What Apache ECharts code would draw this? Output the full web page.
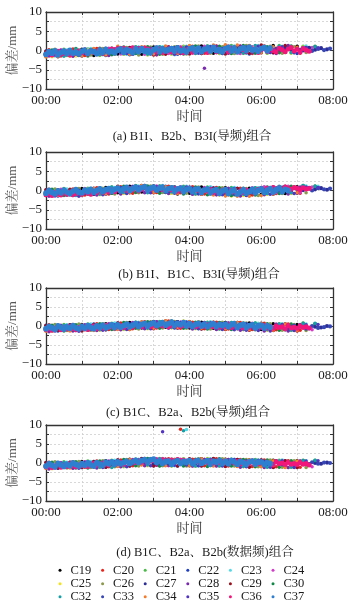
<!DOCTYPE html>
<html><head><meta charset="utf-8">
<script src="https://cdn.jsdelivr.net/npm/echarts@6/dist/echarts.min.js"></script>
<style>html,body{margin:0;padding:0;background:#fff}#c{width:360px;height:606px}</style>
</head><body><div id="c"></div>
<script>
// ---- sampling epochs (minutes after 00:00) ----
const time5=[0,5,10,15,20,25,30,35,40,45,50,55,60,65,70,75,80,85,90,95,100,105,110,115,120,125,130,135,140,145,150,155,160,165,170,175,180,185,190,195,200,205,210,215,220,225,230,235,240,245,250,255,260,265,270,275,280,285,290,295,300,305,310,315,320,325,330,335,340,345,350,355,360,365,370,375,380,385,390,395,400,405,410,415,420,425,430,435,440,445,450,455,460,465,470,475];
const time10a=[0,10,20,30,40,50,60,70,80,90,100,110,120,130,140,150,160,170,180,190,200,210,220,230,240,250,260,270,280,290,300,310,320,330,340,350,360,370,380,390,400,410,420,430,440,450,460,470];
const time10b=[5,15,25,35,45,55,65,75,85,95,105,115,125,135,145,155,165,175,185,195,205,215,225,235,245,255,265,275,285,295,305,315,325,335,345,355,365,375,385,395,405,415,425,435,445,455,465,475];
const g0=[0,20,40,60,80,100,120,140,160,180,200,220,240,260,280,300,320,340,360,380,400,420,440,460];
const g1=[5,25,45,65,85,105,125,145,165,185,205,225,245,265,285,305,325,345,365,385,405,425,445,465];
const g2=[10,30,50,70,90,110,130,150,170,190,210,230,250,270,290,310,330,350,370,390,410,430,450,470];
const g3=[15,35,55,75,95,115,135,155,175,195,215,235,255,275,295,315,335,355,375,395,415,435,455,475];

// ---- satellites ----
const sats=['C19','C20','C21','C22','C23','C24','C25','C26','C27','C28','C29','C30','C32','C33','C34','C35','C36','C37'];
const satColors=['#000000','#e8231a','#4cbb4c','#1f3fbf','#55d8e6','#d23cc8','#f2e21c','#8a9a4a','#2d2d96','#7a2ab0','#9a0f1c','#0e8a46','#14a0a8','#3646b4','#f47c2c','#5234c4','#f2167a','#2f7fd0'];
const panelCaptions=['(a) B1I、B2b、B3I(导频)组合','(b) B1I、B1C、B3I(导频)组合','(c) B1C、B2a、B2b(导频)组合','(d) B1C、B2a、B2b(数据频)组合'];
const xTickLabels=['00:00','02:00','04:00','06:00','08:00'];

// ===== panel (a) =====
const aC19=[-1.5,-0.2,-1.2,0.3,-1.3,0.5,-0.9,0.8,-1.0,0.9,-0.8,1.0,-0.6,1.2,-0.7,1.3,-0.5,1.2,-0.6,1.3,-0.4,1.1,null,null];
const aC20=[0.2,-1.4,0.4,-1.3,0.5,-1.2,0.8,-1.0,0.9,-1.1,1.0,-0.8,1.1,-0.7,1.2,-0.6,1.1,-0.8,1.2,-0.5,1.0,-0.7,null,null];
const aC21=[-1.3,0.3,-1.1,0.4,-1.2,0.6,-0.9,1.0,-1.1,0.9,-0.9,1.1,-0.7,1.2,-0.8,1.3,-0.6,1.2,-0.7,1.3,-0.5,1.1,0.9,null];
const aC22=[-0.1,-1.6,0.2,-1.4,0.3,-1.3,0.7,-1.1,0.8,-0.9,1.0,-1.0,1.1,-0.8,1.2,-0.7,1.0,-0.9,1.2,-0.6,1.1,-0.8,null,null];
const aC23=[-1.4,0.1,-1.2,0.5,-1.1,0.4,-1.0,0.9,-0.9,1.0,-1.1,1.1,-0.6,1.1,-0.8,1.2,-0.7,1.3,-0.5,1.1,-0.6,1.2,null,null];
const aC24=[-1.2,0.2,-1.4,0.4,-1.0,0.6,-0.9,0.8,-1.0,0.9,-0.8,1.0,-0.7,1.1,-0.6,1.2,-0.8,1.0,0.9,-0.5,1.1,-0.4,0.8,null];
const aC25=[-1.6,-0.1,-1.4,0.2,-1.3,0.3,-1.0,0.7,-1.1,0.8,-0.9,0.9,-0.8,1.1,-0.7,1.0,-0.8,1.2,-0.6,1.0,-0.7,0.9,null,null];
const aC26=[0.3,-1.3,0.1,-1.2,0.5,-1.0,0.8,-1.2,0.9,-1.0,1.0,-0.9,1.2,-0.7,1.0,-0.8,1.3,-0.6,1.1,-0.7,1.0,-0.5,null,null];
const aC27=[-1.1,-0.4,-0.8,-0.2,-0.9,-0.5,-0.3,-0.9,0.0,-0.6,-0.2,-0.7,0.2,-0.5,0.4,-0.3,0.1,-0.6,0.4,-0.4,0.6,-0.2,0.3,-0.5,0.5,-0.3,0.7,0.0,0.4,-0.2,0.6,-0.2,0.8,0.1,0.5,-0.3,0.7,0.0,0.4,-0.1,0.6,0.2,0.5,0.0,0.7,0.2,0.6,0.3];
const aC28=[-1.4,0.0,-1.5,0.3,-1.1,-1.3,0.6,-1.0,0.7,-1.1,0.9,-0.8,1.0,-4.6,1.1,-0.7,1.2,-0.6,1.0,-0.8,1.3,-0.4,null,null];
const aC29=[-0.2,-1.5,0.1,-1.3,0.4,-1.1,0.6,-0.9,0.8,-1.2,-1.0,0.9,-0.9,-0.8,1.1,-0.9,1.0,-0.7,1.4,-0.6,1.3,0.9,null,null];
const aC30=[0.1,-1.2,0.5,-1.4,0.6,-1.1,0.9,-0.8,1.0,-1.0,0.8,-0.9,1.2,-0.6,1.1,-0.8,1.3,-0.7,1.0,-0.6,1.2,0.8,1.1,null];
const aC32=[-0.3,-1.5,0.4,-1.0,-1.2,0.6,-0.8,0.9,-1.0,1.0,-0.7,0.8,-0.8,1.2,-0.6,1.0,-0.7,1.3,-0.5,1.1,-0.6,0.8,1.0,null];
const aC33=[-0.5,-1.0,-0.2,-0.8,-0.4,-1.1,-0.7,0.0,-0.8,-0.4,0.1,-0.5,-0.4,0.3,-0.6,0.2,-0.2,0.5,-0.3,0.5,-0.1,0.6,-0.4,0.3,-0.2,0.6,0.1,0.8,-0.3,0.4,0.0,0.7,-0.2,0.8,0.2,-0.1,0.6,-0.2,0.5,0.1,0.7,-0.1,0.2,0.6,-0.1,0.4,0.1,0.5];
const aC34=[-1.7,-1.6,-1.5,-1.4,0.5,-1.2,1.1,-1.0,1.0,-0.9,1.2,-0.8,1.3,-0.6,1.4,1.5,1.4,1.3,-0.6,1.0,-0.5,0.8,null,null];
const aC35=[-1.2,-0.3,-1.3,0.1,-1.0,0.4,-0.8,0.8,-0.9,0.7,-1.0,0.9,-0.7,1.0,-0.8,0.9,-0.6,1.1,-0.5,1.0,-0.6,0.8,0.7,null];
const aC36=[-0.9,-0.4,-1.2,-0.6,-0.2,-1.0,-0.7,-0.3,-1.1,-0.5,-0.8,-0.1,
-0.6,-0.2,-0.9,0.0,-0.5,-0.3,0.2,-0.7,0.3,0.1,0.4,0.2,
0.5,0.3,0.6,0.1,0.4,0.7,0.2,0.5,0.3,0.6,0.4,0.1,
0.2,-0.3,0.4,-0.5,0.0,0.3,-0.4,0.1,-0.2,0.5,-0.6,0.2,
0.3,-0.4,0.1,0.6,-0.2,0.4,-0.5,0.2,0.7,-0.3,0.3,0.0,
0.4,-0.3,0.6,0.1,-0.4,0.5,0.2,-0.2,0.7,0.0,0.3,-0.5,
0.2,0.5,-0.2,0.4,0.0,-0.4,0.6,0.2,-0.3,0.4,0.8,-0.1,
0.3,-0.4,0.5,0.1,-0.2];
const aC37=[-1.0,-0.3,-0.7,-0.1,-1.1,-0.5,-0.2,-0.8,0.0,-0.7,-0.5,-0.9,
-0.2,0.1,-0.7,-0.1,-0.3,-0.8,0.1,-0.5,0.3,-0.4,-0.2,-0.6,
0.1,0.4,-0.5,0.2,-0.1,-0.6,0.4,-0.3,0.5,-0.2,0.0,-0.5,
0.2,0.6,-0.3,0.4,-0.1,0.2,0.5,-0.2,0.7,-0.1,0.1,-0.4,
0.4,0.7,-0.2,0.6,-0.3,0.3,0.6,-0.1,0.8,0.0,0.2,-0.3,
0.5,0.8,-0.1,0.6,-0.3,0.4,0.7,0.0,0.9,0.1,0.3,-0.2,
0.5,0.8,0.0,0.6];

// ===== panel (b) =====
const bC19=[-1.3,0.2,-1.1,0.5,-1.0,0.8,-0.6,1.1,-0.4,1.2,-0.5,-0.9,-0.7,0.9,-1.0,0.7,-1.2,0.6,-1.0,0.9,-0.8,1.0,null,null];
const bC20=[0.3,-1.2,0.4,-1.2,0.7,-0.9,1.0,-0.7,1.3,-0.5,1.1,-0.6,1.0,-0.9,0.8,-1.1,0.6,-1.2,0.8,-0.8,1.0,-0.7,null,null];
const bC21=[-1.2,0.5,-1.1,0.6,-0.9,0.9,-0.6,1.3,-0.4,1.2,-0.7,1.1,-0.8,0.9,-1.0,0.8,-1.1,0.7,-0.9,0.9,-0.7,1.2,1.0,null];
const bC22=[0.1,-1.4,0.2,-1.2,0.5,-1.0,0.9,-0.6,1.2,-0.5,1.1,-0.7,0.9,-0.9,0.7,-1.1,0.6,-1.3,0.8,-0.9,1.0,-0.7,null,null];
const bC23=[-1.0,0.4,-1.2,0.6,-0.9,0.8,-0.7,1.2,-0.5,1.3,-0.6,1.1,-0.8,1.0,-1.0,0.8,-1.2,0.7,-0.9,1.0,-0.8,1.2,1.1,null];
const bC24=[-1.3,0.3,-1.1,0.5,-1.0,0.7,-0.8,1.1,-0.4,1.2,-0.6,1.0,-0.9,0.8,-1.1,0.6,-1.3,0.7,1.0,-0.6,1.1,-0.5,0.9,null];
const bC25=[-1.4,0.1,-1.2,0.3,-1.1,0.6,-0.8,1.0,-0.5,1.1,-0.7,0.9,-1.0,0.8,-1.2,-1.4,-1.3,0.5,-1.0,0.8,-0.8,1.0,null,null];
const bC26=[0.4,-1.2,0.5,-1.1,0.6,-0.9,1.0,-0.6,1.2,-0.5,1.0,-0.7,0.9,-0.9,0.7,-1.2,0.5,-1.3,0.8,-0.8,1.0,-0.6,null,null];
const bC27=[-0.9,-0.3,-1.2,-0.6,-0.1,-1.0,-0.5,0.0,-0.8,-0.3,0.2,-0.6,0.0,0.6,-0.2,0.8,0.1,0.5,0.9,0.0,0.6,-0.1,0.4,0.7,-0.2,0.4,-0.4,0.2,-0.5,0.1,-0.6,0.0,-0.8,-0.3,0.1,-0.7,0.3,-0.4,0.5,0.0,0.6,-0.1,0.4,0.1,0.7,0.3,0.6,0.2];
const bC28=[-1.5,-0.1,-1.3,0.2,-1.2,0.5,-0.9,0.9,-0.6,1.0,-0.8,0.8,-1.0,0.6,-1.1,0.5,-1.4,0.4,-1.1,0.7,-0.9,0.9,null,null];
const bC29=[0.2,-1.1,0.3,-1.3,0.6,-0.8,1.1,-0.5,1.3,-0.6,1.0,-0.8,0.8,-1.0,0.6,-1.2,0.5,-1.1,0.7,-0.9,1.1,-0.6,null,null];
const bC30=[0.3,-1.3,0.4,-1.0,0.7,-0.7,1.1,-0.5,1.2,-0.7,1.0,-0.9,0.9,-1.1,0.7,-1.3,0.6,-1.2,0.9,-0.8,1.1,1.3,1.2,null];
const bC32=[-1.1,0.2,-1.3,0.4,-1.0,0.9,-0.5,1.1,-0.6,1.2,-0.4,1.0,-0.9,0.8,-1.1,0.6,-1.0,0.7,-0.8,1.1,-0.6,1.3,1.1,null];
const bC33=[-0.2,-0.8,-0.5,-1.1,-0.3,0.0,-0.7,0.3,-0.4,0.1,-0.6,0.4,0.7,-0.1,0.9,0.3,1.1,0.2,0.2,1.0,-0.2,0.8,0.0,0.5,0.5,-0.3,0.3,-0.6,0.2,-0.4,-0.3,-0.9,0.0,-1.0,-0.4,0.2,-0.3,0.4,-0.1,0.6,0.2,0.7,0.2,0.5,0.0,0.6,0.3,0.5];
const bC34=[-0.9,-1.3,-0.8,-1.2,0.5,-0.9,0.9,-0.6,1.3,-0.5,1.0,-0.8,0.8,-1.0,-1.2,-1.4,-1.5,-1.5,-1.3,-0.9,1.0,-0.6,null,null];
const bC35=[-1.4,-0.3,-1.5,0.0,-1.1,0.4,-0.8,0.9,-0.6,1.0,-0.7,0.9,-0.9,0.6,-1.1,0.5,-1.3,0.4,-1.0,0.8,-0.8,0.9,0.8,null];
const bC36=[-1.1,-0.7,-1.3,-0.5,-0.9,-1.2,-0.6,-1.0,-0.4,-1.1,-0.8,-0.5,
-0.9,-0.3,-0.7,-1.0,-0.2,-0.6,0.0,-0.5,-0.1,-0.4,0.1,-0.3,
0.2,-0.2,0.4,0.0,0.5,0.1,0.6,-0.1,0.3,0.7,0.2,0.4,
0.5,0.0,0.6,0.2,-0.1,0.4,0.1,0.5,-0.2,0.3,0.0,0.4,
0.2,-0.3,0.3,0.0,-0.4,0.1,-0.2,0.2,-0.5,0.0,-0.3,0.1,
-0.2,-0.6,0.0,-0.4,-0.7,-0.1,-0.5,0.1,-0.3,0.2,-0.2,0.3,
0.4,0.1,0.6,0.3,0.8,0.2,0.7,0.4,0.9,0.5,0.3,0.8,
0.6,0.2,0.7,0.4,0.5];
const bC37=[-0.7,0.0,-0.5,-0.9,-0.1,-0.6,0.1,-0.4,-0.8,-0.2,0.2,-0.5,
-0.6,0.1,-0.3,0.3,-0.5,0.0,0.4,-0.3,0.2,0.5,-0.2,0.3,
0.6,-0.1,0.4,0.8,0.0,0.5,0.9,0.2,0.7,1.0,0.1,0.6,
0.9,0.1,0.6,0.8,-0.1,0.5,0.7,-0.2,0.4,0.6,-0.3,0.3,
0.5,-0.3,0.3,0.4,-0.5,0.1,0.3,-0.6,0.0,0.2,-0.7,-0.1,
0.2,-0.8,-0.2,0.1,-0.9,-0.4,0.2,-0.7,-0.3,0.3,-0.6,0.0,
0.4,-0.5,0.1,0.5,-0.4,0.2,0.6,-0.3,0.3,0.0];

// ===== panel (c) =====
const cC19=[-1.2,0.2,-1.1,0.4,-0.9,0.6,-0.7,0.9,-0.5,1.2,-0.3,1.1,-0.5,1.0,-0.6,0.9,-0.7,0.8,-0.9,0.6,-1.0,0.4,null,null];
const cC20=[0.3,-1.1,0.4,-1.0,0.6,-0.9,0.8,-0.7,1.1,-0.5,1.3,-0.6,1.0,-0.7,1.0,-0.8,0.9,-0.9,0.7,-1.0,0.5,-1.1,null,null];
const cC21=[-1.1,0.4,-1.0,0.5,-0.9,0.7,-0.8,1.0,-0.5,1.2,-0.4,1.1,-0.6,1.0,-0.7,0.9,-0.8,0.8,-0.9,0.6,-1.1,0.5,0.6,null];
const cC22=[0.2,-1.3,0.3,-1.1,0.5,-1.0,0.8,-0.8,1.0,-0.6,1.2,-0.5,1.1,-0.7,0.9,-0.8,0.9,-1.0,0.7,-1.1,0.5,-1.2,null,null];
const cC23=[-1.0,0.3,-1.1,0.5,-0.8,0.8,-0.8,1.0,-0.6,1.2,-0.5,1.1,-0.7,1.1,-0.8,0.9,-0.9,0.7,-1.0,0.6,-1.1,0.5,null,null];
const cC24=[-1.3,0.2,-1.2,0.3,-1.0,0.6,-0.9,0.9,-0.6,1.1,-0.4,1.0,-0.6,0.9,-0.8,0.8,-0.9,0.7,-1.1,0.5,-1.2,0.4,-1.0,null];
const cC25=[-1.4,0.0,-1.2,0.2,-1.1,0.5,-0.9,0.8,-0.7,1.0,-0.5,1.3,-0.7,0.9,-0.8,0.8,-1.0,0.6,-1.1,0.4,-1.2,0.3,null,null];
const cC26=[0.4,-1.2,0.5,-1.1,0.6,-0.9,0.9,-0.8,1.1,-0.5,1.2,-0.6,1.1,-0.8,1.0,-0.8,0.8,-1.0,0.6,-1.1,0.4,-1.2,null,null];
const cC27=[-0.8,-0.2,-1.0,-0.5,-0.1,-0.9,-0.6,0.0,-0.7,-0.2,0.1,-0.5,0.3,-0.3,0.5,0.0,0.6,-0.1,0.9,0.2,0.7,0.1,1.0,0.3,0.6,0.0,0.5,-0.1,0.4,0.7,0.3,-0.3,0.5,-0.2,0.2,-0.4,-0.5,0.1,-0.6,-0.1,-0.7,0.0,-0.5,0.0,-0.6,-0.2,-0.4,0.0];
const cC28=[-1.5,0.1,-1.3,0.2,-1.2,0.5,-1.0,0.8,-0.7,1.1,-0.6,1.0,-0.8,0.9,-0.9,0.8,-1.1,0.6,-1.3,0.4,-1.3,0.3,null,null];
const cC29=[0.1,-1.2,0.3,-1.3,0.4,-1.0,0.8,-0.9,1.0,-0.7,1.3,-0.5,1.1,-0.8,1.0,-0.9,0.9,-1.1,0.6,-1.2,0.5,-1.3,null,null];
const cC30=[0.2,-1.3,0.3,-1.1,0.6,-0.9,0.9,-0.6,1.1,-0.6,1.3,-0.6,1.0,-0.8,0.9,-0.9,0.8,-1.0,0.6,-1.1,0.5,0.8,0.6,null];
const cC32=[-1.2,0.1,-1.2,0.4,-1.0,0.6,-0.7,1.0,-0.6,1.1,-0.4,1.2,-0.6,0.9,-0.8,0.9,-0.9,0.8,-1.0,0.5,-1.1,0.6,0.7,null];
const cC33=[-0.3,-0.9,-0.2,-0.7,-1.0,-0.4,0.1,-0.8,-0.4,0.2,-0.5,0.0,-0.3,0.4,-0.2,0.6,0.1,0.8,0.1,0.6,-0.1,0.8,0.4,0.9,-0.1,0.7,0.2,0.6,-0.2,0.5,-0.3,0.4,0.0,0.5,-0.4,0.3,0.1,-0.6,0.2,-0.4,-0.8,0.1,-0.2,-0.7,0.0,-0.5,-0.3,-0.1];
const cC34=[-1.4,-0.1,-1.3,0.2,-1.2,0.4,-0.9,-0.9,1.1,-0.6,1.4,-0.4,1.2,-0.6,1.0,-0.8,0.9,-1.0,0.7,-1.1,0.5,-1.2,null,null];
const cC35=[-1.3,-0.2,-1.4,0.1,-1.1,0.3,-0.9,0.7,-0.7,1.0,-0.5,1.0,-0.7,0.8,-0.9,-1.0,-1.1,-1.2,-1.3,0.4,-1.2,0.3,0.4,null];
const cC36=[-0.9,-0.3,-1.1,-0.6,-0.2,-1.0,-0.5,-0.8,-0.1,-0.7,-1.0,-0.4,
-0.6,-0.2,-0.9,-0.4,0.0,-0.7,-0.3,-0.5,0.1,-0.4,-0.1,-0.6,
-0.2,0.1,-0.4,0.2,-0.1,-0.3,0.3,0.0,-0.2,0.4,0.1,-0.1,
0.2,-0.1,0.3,0.0,0.1,-0.2,0.2,0.0,0.3,-0.1,0.1,0.2,
0.0,0.3,-0.2,0.1,0.2,-0.1,0.3,0.0,-0.2,0.2,-0.3,0.1,
-0.1,0.3,-0.4,0.0,-0.3,0.2,-0.5,-0.1,-0.4,0.1,-0.6,-0.2,
-0.3,0.1,-0.5,-0.1,-0.6,0.0,-0.4,-0.2,-0.7,0.1,-0.5,-0.3,
-0.6,0.0,-0.4,-0.2,-0.5];
const cC37=[-0.7,-0.1,-0.5,-0.9,0.0,-0.4,-0.8,-0.2,-0.6,0.1,-0.5,-0.8,
-0.1,-0.6,0.1,-0.4,-0.7,0.0,-0.3,0.2,-0.5,-0.1,0.3,-0.4,
0.3,-0.3,0.1,0.5,-0.2,0.2,0.6,-0.1,0.4,0.7,0.0,0.5,
0.8,0.1,0.5,0.9,0.2,0.6,1.0,0.1,0.7,0.3,0.9,0.0,
0.6,-0.1,0.4,0.7,0.0,0.5,-0.2,0.3,0.6,-0.1,0.4,0.1,
0.5,-0.2,0.3,0.6,-0.3,0.2,0.4,-0.4,0.1,0.3,-0.5,0.0,
0.2,-0.5,0.1,-0.3];

// ===== panel (d) =====
const dC19=[-1.3,0.1,-1.1,0.4,-1.0,0.6,-0.8,1.0,-0.4,1.1,-0.6,1.0,-0.7,1.1,-0.6,1.0,-0.8,0.8,-0.9,0.7,-1.0,0.6,null,null];
const dC20=[0.2,-1.2,0.3,-1.1,0.5,-1.0,0.8,-0.7,1.2,-0.6,1.1,8.9,1.0,-0.7,1.1,-0.8,0.9,-0.9,0.8,-1.0,0.6,-1.1,null,null];
const dC21=[-1.2,0.3,-1.1,0.5,-1.0,0.7,-0.9,1.0,-0.6,1.2,-0.7,1.1,-0.8,1.1,-0.7,1.0,-0.9,0.9,-1.0,0.7,-1.1,0.6,0.7,null];
const dC22=[0.1,-1.4,0.2,-1.2,0.4,-1.1,0.8,-0.8,1.2,-0.7,1.0,-0.8,1.0,-0.7,1.1,-0.8,0.9,-1.0,0.8,-1.1,0.6,-1.2,null,null];
const dC23=[-1.1,0.2,-1.2,0.4,-0.9,0.7,-0.8,1.0,-0.6,1.2,-0.7,8.8,-0.8,1.1,-0.7,1.0,-0.9,0.8,-1.0,0.8,-1.1,0.6,null,null];
const dC24=[-1.4,0.1,-1.3,0.3,-1.1,0.5,-0.9,0.9,-0.5,1.1,-0.7,1.0,-0.8,1.0,-0.7,0.9,-0.9,0.8,-1.0,0.6,-1.2,0.5,-1.0,null];
const dC25=[-1.5,-0.1,-1.3,0.1,-1.2,0.4,-1.0,0.8,-0.7,1.0,-0.8,1.0,-0.8,1.2,-0.8,0.9,-1.0,0.7,-1.1,0.6,-1.2,0.5,null,null];
const dC26=[0.3,-1.3,0.4,-1.2,0.6,-1.0,0.9,-0.8,1.2,-0.7,1.0,-0.8,1.1,-0.7,1.1,-0.8,0.9,-1.0,0.8,-1.1,0.6,-1.2,null,null];
const dC27=[-0.9,-0.3,-1.1,-0.6,-0.2,-1.0,-0.6,0.0,-0.8,-0.3,0.1,-0.5,0.2,-0.3,0.5,0.0,0.7,0.2,-0.3,-0.6,-0.4,-0.5,0.5,0.0,0.6,-0.1,0.5,0.0,0.7,0.1,0.6,-0.2,0.5,0.0,0.4,-0.3,0.3,-0.4,0.2,-0.3,-0.5,0.1,-0.4,0.1,-0.3,0.0,-0.2,0.1];
const dC28=[-1.6,0.0,-1.4,0.2,-1.3,0.4,-1.0,0.8,-0.7,-0.5,-0.6,-0.4,-0.8,0.9,-0.8,0.9,-1.1,0.7,-1.2,0.6,-1.2,0.5,null,null];
const dC29=[0.1,-1.3,0.2,-1.2,0.4,-1.1,0.8,-0.8,1.1,-0.8,1.0,-0.8,1.1,-0.8,1.2,-0.9,0.9,-1.1,0.8,-1.2,0.6,-1.2,null,null];
const dC30=[0.2,-1.2,0.3,-1.3,0.5,-1.0,0.9,-0.7,1.2,-0.8,1.0,-0.8,1.0,-0.9,1.1,-0.8,0.9,-1.0,0.8,-1.1,0.6,0.7,0.6,null];
const dC32=[-1.2,0.1,-1.3,0.3,-1.1,-1.2,-0.8,1.0,-0.5,1.1,-0.7,8.5,-0.8,1.0,-0.8,1.0,-0.9,0.8,-1.1,0.6,-1.1,0.6,0.7,null];
const dC33=[-0.4,-1.0,-0.3,-0.8,-1.1,-0.5,0.0,-0.7,-0.4,0.1,-0.6,-0.1,-0.3,0.4,-0.1,0.6,0.2,0.9,0.2,0.7,-0.1,0.5,0.0,0.6,-0.1,0.6,0.2,0.7,-0.2,0.5,0.0,0.6,-0.1,0.5,0.2,-0.3,0.4,-0.3,0.2,-0.4,0.1,-0.5,0.0,-0.3,0.2,-0.2,0.1,0.0];
const dC34=[-1.4,-0.2,-1.3,0.1,-1.1,0.4,-0.9,0.9,-0.5,1.0,-0.7,1.0,-0.7,1.1,-0.8,1.0,-0.9,0.8,-1.0,0.6,-1.2,0.5,null,null];
const dC35=[-1.3,-0.3,-1.4,0.0,-1.2,0.3,-1.0,0.7,-0.7,8.2,-0.6,-0.5,-0.7,0.9,-0.8,0.9,-1.0,0.7,-1.1,0.6,-1.2,0.5,0.6,null];
const dC36=[-1.0,-0.4,-1.2,-0.7,-0.3,-1.1,-0.6,-0.9,-0.2,-0.8,-1.0,-0.5,
-0.7,-0.3,-0.9,-0.5,-0.1,-0.6,-0.4,0.0,-0.3,-0.5,0.1,-0.2,
-0.1,0.2,-0.3,0.3,0.0,0.4,0.1,0.5,0.2,0.6,0.3,0.5,
0.6,0.8,0.5,0.9,0.6,0.7,0.8,0.5,0.9,0.6,0.7,0.4,
0.5,0.2,0.6,0.3,0.1,0.4,0.2,0.5,0.0,0.3,0.1,0.4,
0.2,-0.1,0.3,0.0,0.4,-0.2,0.2,0.1,-0.1,0.3,0.0,-0.2,
0.1,-0.3,0.2,-0.1,-0.5,0.3,-0.2,0.0,-0.4,0.2,-0.3,-0.1,
-0.4,0.1,-0.3,-0.1,-0.5];
const dC37=[-0.8,-0.2,-0.6,-1.0,-0.1,-0.5,-0.9,-0.3,-0.7,0.0,-0.4,-0.8,
-0.2,-0.6,0.0,-0.5,-0.8,0.1,-0.3,-0.6,0.2,-0.2,0.3,-0.4,
0.3,-0.2,0.1,0.5,-0.1,0.3,0.7,0.1,0.6,0.9,0.3,0.8,
1.0,0.2,0.6,-0.1,0.4,0.5,-0.2,0.3,0.6,-0.1,0.4,0.2,
0.6,-0.2,0.4,0.7,-0.1,0.3,0.6,-0.3,0.5,0.2,0.7,-0.1,
0.5,-0.2,0.6,0.3,-0.3,0.4,0.1,-0.4,0.3,0.5,-0.3,0.2,
0.3,-0.4,0.1,-0.2];

// ---- assemble ----
const satTimes=[g0,g1,g2,g0,g3,g1,g2,g3,time10a,g1,g0,g2,g2,time10b,g0,g3,time5,time5];
const panels=[
 [aC19,aC20,aC21,aC22,aC23,aC24,aC25,aC26,aC27,aC28,aC29,aC30,aC32,aC33,aC34,aC35,aC36,aC37],
 [bC19,bC20,bC21,bC22,bC23,bC24,bC25,bC26,bC27,bC28,bC29,bC30,bC32,bC33,bC34,bC35,bC36,bC37],
 [cC19,cC20,cC21,cC22,cC23,cC24,cC25,cC26,cC27,cC28,cC29,cC30,cC32,cC33,cC34,cC35,cC36,cC37],
 [dC19,dC20,dC21,dC22,dC23,dC24,dC25,dC26,dC27,dC28,dC29,dC30,dC32,dC33,dC34,dC35,dC36,dC37]
];

const FONT='"Liberation Serif","Noto Serif CJK SC","Noto Sans CJK SC",serif';
const gridTops=[12,152,288,425];
const gridH=[77,77,76,76];
const captionY=[137,275,413,553];
const captionX=[192,199,188,205];

const grids=[],xAxes=[],yAxes=[],series=[];
const axisLine={show:true,onZero:false,lineStyle:{color:'#333',width:1.3}};
const tick={show:true,inside:true,length:3,lineStyle:{color:'#333',width:1}};
const split={show:true,lineStyle:{color:'#cfcfcf',width:0.8,type:[2,2]}};
const minus=s=>String(s).replace('-','\u2212');

for(let p=0;p<4;p++){
  grids.push({left:46,right:27,top:gridTops[p],height:gridH[p],containLabel:false,outerBoundsMode:'none'});
  xAxes.push({type:'value',gridIndex:p,min:0,max:480,interval:60,position:'bottom',
    axisLine,axisTick:tick,splitLine:split,nameMoveOverlap:false,
    axisLabel:{margin:5,fontSize:13,color:'#1a1a1a',fontFamily:FONT,showMinLabel:true,showMaxLabel:true,
      formatter:v=>(v%120===0?xTickLabels[v/120]:'')},
    name:'时间',nameLocation:'middle',nameGap:21,
    nameTextStyle:{fontSize:13,color:'#333',fontFamily:FONT}});
  xAxes.push({type:'value',gridIndex:p,min:0,max:480,interval:60,position:'top',
    axisLine,axisTick:tick,splitLine:{show:false},axisLabel:{show:false}});
  yAxes.push({type:'value',gridIndex:p,min:-10,max:10,interval:2.5,position:'left',
    axisLine,axisTick:tick,splitLine:split,nameMoveOverlap:false,
    axisLabel:{margin:4,fontSize:13,color:'#1a1a1a',fontFamily:FONT,
      formatter:v=>(v%5===0?minus(v):'')},
    name:'偏差/mm',nameLocation:'middle',nameRotate:90,nameGap:27,
    nameTextStyle:{fontSize:13,color:'#555',fontFamily:FONT}});
  yAxes.push({type:'value',gridIndex:p,min:-10,max:10,interval:2.5,position:'right',
    axisLine,axisTick:tick,splitLine:{show:false},axisLabel:{show:false}});
  sats.forEach((s,k)=>{
    const times=satTimes[k], vals=panels[p][k];
    const data=times.map((t,i)=>[t,vals[i]]).filter(d=>d[1]!=null);
    const big=(s==='C37');
    const pink=(s==='C36');
    const mid=(s==='C27'||s==='C33');
    series.push({type:'scatter',name:s,xAxisIndex:2*p,yAxisIndex:2*p,data,
      symbol:'circle',symbolSize:big?5.8:(pink?5:(mid?4.2:3.5)),
      itemStyle:{color:satColors[k],opacity:1},silent:true,animation:false});
  });
}

const legends=[];
const colPitch=42.6, rowY=[571,584.5,597.5];
sats.forEach((s,k)=>{
  const r=Math.floor(k/6), c=k%6;
  legends.push({show:true,data:[s],left:58.5+c*colPitch,top:rowY[r]-7,
    icon:'circle',itemWidth:3,itemHeight:3,selectedMode:false,padding:0,
    textStyle:{fontSize:12.5,color:'#1a1a1a',fontFamily:FONT,padding:[0,0,0,4]}});
});

const graphics=panelCaptions.map((t,p)=>({type:'text',silent:true,
  style:{text:t,x:captionX[p],y:captionY[p],align:'center',verticalAlign:'middle',
    textAlign:'center',textVerticalAlign:'middle',fontSize:12.5,fontFamily:FONT,fill:'#1a1a1a'}}));

const chart=echarts.init(document.getElementById('c'),null,{renderer:'canvas'});
chart.setOption({animation:false,backgroundColor:'#fff',grid:grids,xAxis:xAxes,yAxis:yAxes,
  series,legend:legends,graphic:graphics});
</script></body></html>
